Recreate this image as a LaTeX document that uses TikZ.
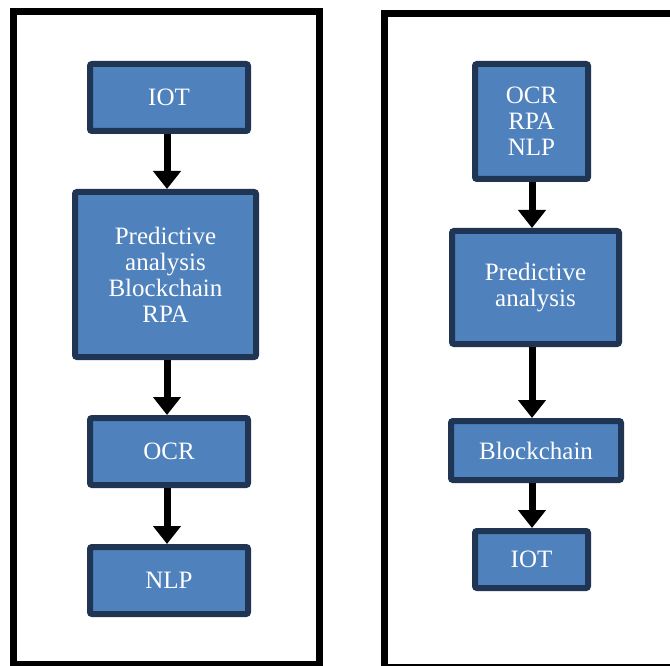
\documentclass[tikz,border=0pt]{standalone}
\usepackage{fontspec}
\setmainfont{Liberation Serif}
\usetikzlibrary{positioning,arrows.meta}

\definecolor{boxfill}{HTML}{4F81BD}
\definecolor{boxline}{HTML}{1F3553}

\tikzset{
  stage/.style={draw=boxline, fill=boxfill, line width=6pt, rounded corners=2pt,
    text=white, align=center, inner sep=0pt,
    font=\fontsize{25}{26}\selectfont},
  flow/.style={line width=7pt, -{Triangle[width=27pt,length=18pt]}},
  panel/.style={draw=black, line width=7pt}
}

\begin{document}
\begin{tikzpicture}[x=1pt,y=-1pt]
\useasboundingbox (0,0) rectangle (670,666);
\clip (0,0) rectangle (670,666);

% two panels
\draw[panel] (13.5,11.5) rectangle (319.5,664.5);
\draw[panel] (384,14) rectangle (700,667.5);

% left chain
\node[stage, minimum width=158pt, minimum height=67pt] (iotL) at (169,97.5) {IOT};
\node[stage, minimum width=181pt, minimum height=165pt, below=55pt of iotL, xshift=-3.5pt] (mixL)
  {Predictive\\analysis\\Blockchain\\RPA};
\node[stage, minimum width=158pt, minimum height=67pt, below=55pt of mixL, xshift=3.5pt] (ocrL) {OCR};
\node[stage, minimum width=158pt, minimum height=67pt, below=56pt of ocrL] (nlpL) {NLP};

% right chain
\node[stage, minimum width=113pt, minimum height=115pt] (mixR) at (531.5,121.5) {OCR\\RPA\\NLP};
\node[stage, minimum width=167pt, minimum height=113pt, below=46pt of mixR, xshift=4pt] (predR)
  {Predictive\\analysis};
\node[stage, minimum width=170pt, minimum height=59pt, below=71pt of predR, xshift=.5pt] (blockR) {Blockchain};
\node[stage, minimum width=113pt, minimum height=57pt, below=45pt of blockR, xshift=-4.5pt] (iotR) {IOT};

% arrows
\coordinate (lcol) at (167,0);
\coordinate (rcol) at (532,0);
\draw[flow] (iotL.south -| lcol) -- (mixL.north -| lcol);
\draw[flow] (mixL.south -| lcol) -- (ocrL.north -| lcol);
\draw[flow] (ocrL.south -| lcol) -- (nlpL.north -| lcol);
\draw[flow] (mixR.south -| rcol) -- (predR.north -| rcol);
\draw[flow] (predR.south -| rcol) -- (blockR.north -| rcol);
\draw[flow] (blockR.south -| rcol) -- (iotR.north -| rcol);
\end{tikzpicture}
\end{document}
